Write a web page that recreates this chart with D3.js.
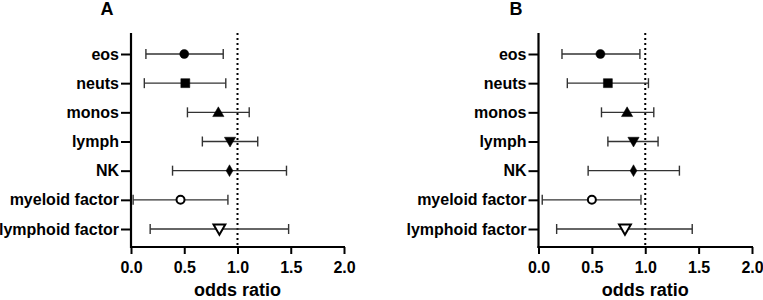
<!DOCTYPE html>
<html><head><meta charset="utf-8">
<script src="https://cdn.jsdelivr.net/npm/d3@7"></script>
<style>body{margin:0;background:#fff}svg{display:block}text{font-family:"Liberation Sans",Arial,sans-serif;font-weight:bold;fill:#000}</style>
</head><body>
<script>
const categories = ["eos","neuts","monos","lymph","NK","myeloid factor","lymphoid factor"];
const symbols = ["circle","square","triangle","triangleDown","diamond","openCircle","openTriangleDown"];
const xTicks = [0.0,0.5,1.0,1.5,2.0];
const panelTitles = ["A","B"];
const aOR  = [0.50,0.51,0.82,0.93,0.925,0.465,0.83];
const aLow = [0.14,0.125,0.53,0.67,0.39,0.02,0.18];
const aHigh= [0.866,0.89,1.11,1.19,1.46,0.91,1.48];
const bOR  = [0.58,0.65,0.83,0.89,0.89,0.50,0.81];
const bLow = [0.22,0.27,0.59,0.65,0.465,0.035,0.17];
const bHigh= [0.95,1.03,1.08,1.12,1.32,0.96,1.44];
const refLine = 1.0;
const xLabel = "odds ratio";

const W=763,H=300;
const svg=d3.select("body").append("svg").attr("width",W).attr("height",H);

const panels=[
 {title:panelTitles[0],or:aOR,lo:aLow,hi:aHigh,x0:131,x1:344,tx:107},
 {title:panelTitles[1],or:bOR,lo:bLow,hi:bHigh,x0:538.5,x1:752,tx:516}
];
const yTop=33, yBot=247;

panels.forEach(p=>{
  const g=svg.append("g");
  const x=d3.scaleLinear().domain([0,2]).range([p.x0,p.x1]);
  const y=d3.scalePoint().domain(categories).range([54,229]);
  // axes
  const xa=g.append("g").attr("transform",`translate(0,${yBot})`)
    .call(d3.axisBottom(x).tickValues(xTicks).tickFormat(d3.format(".1f")).tickSizeInner(7).tickSizeOuter(0).tickPadding(8));
  xa.select(".domain").attr("stroke","#000").attr("stroke-width",2.2).attr("d",`M${p.x0-1},0H${p.x1+1}`);
  xa.selectAll(".tick line").attr("stroke","#000").attr("stroke-width",2);
  xa.selectAll(".tick text").style("font-size","16px").attr("dy","0.71em");
  const ya=g.append("g").attr("transform",`translate(${p.x0},0)`)
    .call(d3.axisLeft(y).tickSizeInner(10).tickSizeOuter(0).tickPadding(2));
  ya.select(".domain").attr("stroke","#000").attr("stroke-width",2.2).attr("d",`M0,${yTop}V${yBot+1}`);
  ya.selectAll(".tick line").attr("stroke","#000").attr("stroke-width",2);
  ya.selectAll(".tick text").style("font-size","16px");
  // reference line
  g.append("line").attr("x1",x(refLine)).attr("x2",x(refLine)).attr("y1",yTop).attr("y2",yBot)
    .attr("stroke","#000").attr("stroke-width",2).attr("stroke-dasharray","2,3");
  // error bars
  const rows=categories.map((c,i)=>({c,i,or:p.or[i],lo:p.lo[i],hi:p.hi[i],s:symbols[i]}));
  const eb=g.selectAll(".eb").data(rows).enter().append("g");
  eb.append("line").attr("x1",d=>x(d.lo)).attr("x2",d=>x(d.hi)).attr("y1",d=>y(d.c)).attr("y2",d=>y(d.c))
    .attr("stroke","#333").attr("stroke-width",1.4);
  ["lo","hi"].forEach(k=>{
    eb.append("line").attr("x1",d=>x(d[k])).attr("x2",d=>x(d[k])).attr("y1",d=>y(d.c)-5).attr("y2",d=>y(d.c)+5)
      .attr("stroke","#333").attr("stroke-width",1.4);
  });
  // markers
  const sym={circle:[d3.symbolCircle,64,true],square:[d3.symbolSquare,80,true],triangle:[d3.symbolTriangle,55,true],
    triangleDown:[d3.symbolTriangle,55,true],diamond:[d3.symbolDiamond,40,true],openCircle:[d3.symbolCircle,50,false],
    openTriangleDown:[d3.symbolTriangle,60,false]};
  eb.append("path").attr("d",d=>d3.symbol().type(sym[d.s][0]).size(sym[d.s][1])())
    .attr("transform",d=>`translate(${x(d.or)},${y(d.c)+(d.s.indexOf("Down")>=0?-1:(d.s==="triangle"?1:0))})`+(d.s.indexOf("Down")>=0?" rotate(180)":""))
    .attr("fill",d=>sym[d.s][2]?"#000":"#fff").attr("stroke","#000").attr("stroke-width",d=>sym[d.s][2]?0.5:2);
  // labels
  g.append("text").attr("x",(p.x0+p.x1)/2).attr("y",296).attr("text-anchor","middle")
    .style("font-size","18px").text(xLabel);
  g.append("text").attr("x",p.tx).attr("y",15).attr("text-anchor","middle")
    .style("font-size","18px").text(p.title);
});
</script>
</body></html>
